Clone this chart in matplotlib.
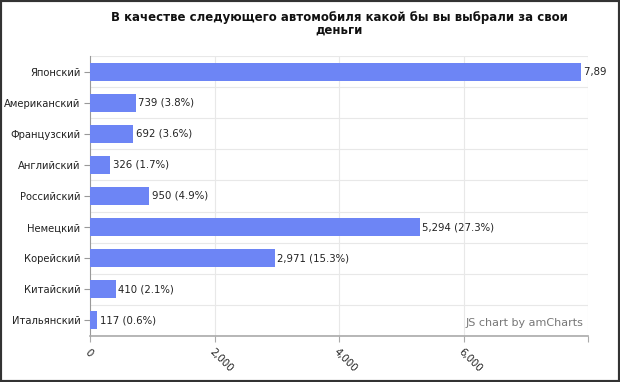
import matplotlib
matplotlib.use("Agg")
import matplotlib.pyplot as plt
from matplotlib.patches import Rectangle

categories = ["Японский", "Американский", "Французский", "Английский", "Российский",
              "Немецкий", "Корейский", "Китайский", "Итальянский"]
values = [7894, 739, 692, 326, 950, 5294, 2971, 410, 117]
percents = ["40.7%", "3.8%", "3.6%", "1.7%", "4.9%", "27.3%", "15.3%", "2.1%", "0.6%"]
xticks = [0, 2000, 4000, 6000]
xtick_labels = ["0", "2,000", "4,000", "6,000"]
title = "В качестве следующего автомобиля какой бы вы выбрали за свои\nденьги"

plt.rcParams['font.family'] = ['DejaVu Sans']
fig = plt.figure(figsize=(6.2, 3.82), dpi=100)
ax = fig.add_axes([90/620, 1-336/382, (588-90)/620, (336-56)/382])

n = len(categories)
ypos = list(range(n))
ax.barh(ypos, values, height=0.58, color='#6d85f5', zorder=3)
ax.set_ylim(n-0.5, -0.5)
ax.set_xlim(0, 8000)

clip_rect = Rectangle((0, 0), 606/620, 1, transform=fig.transFigure)
for y, v, p in zip(ypos, values, percents):
    t = ax.text(v + 40, y, f"{v:,} ({p})", va='center', ha='left', fontsize=7.3,
                color='#222222', zorder=4)
    t.set_clip_on(True)
    t.set_clip_path(clip_rect)

# grid
for b in range(n+1):
    ax.axhline(b-0.5, color='#e8e8e8', lw=0.8, zorder=1)
for xv in [2000, 4000, 6000, 8000]:
    ax.axvline(xv, color='#e8e8e8', lw=0.8, zorder=1)

for s in ['top', 'right']:
    ax.spines[s].set_visible(False)
ax.spines['left'].set_color('#999999')
ax.spines['left'].set_linewidth(0.8)
ax.spines['bottom'].set_color('#aaaaaa')
ax.spines['bottom'].set_linewidth(1.2)

ax.set_yticks(ypos)
ax.set_yticklabels(categories, fontsize=7.2, color='#222222')
ax.tick_params(axis='y', length=4, color='#999999', pad=3)
ax.set_xticks(xticks + [8000])
ax.set_xticklabels(xtick_labels + [""], fontsize=7.3, color='#222222',
                   rotation=-45, ha='left', va='top', rotation_mode='anchor')
ax.tick_params(axis='x', length=4, color='#aaaaaa', pad=4)

ax.text(0.99, 0.03, "JS chart by amCharts", transform=ax.transAxes, ha='right',
        va='bottom', fontsize=8, color='#777777', zorder=5)

fig.text(339/620, 1-24/382, title, ha='center', va='center', fontsize=8.5,
         fontweight='bold', color='#111111', linespacing=1.0)

fig.patches.append(Rectangle((0, 0), 1, 1, transform=fig.transFigure, fill=False,
                             edgecolor='#333333', lw=3))
fig.savefig("out.png", dpi=100)
